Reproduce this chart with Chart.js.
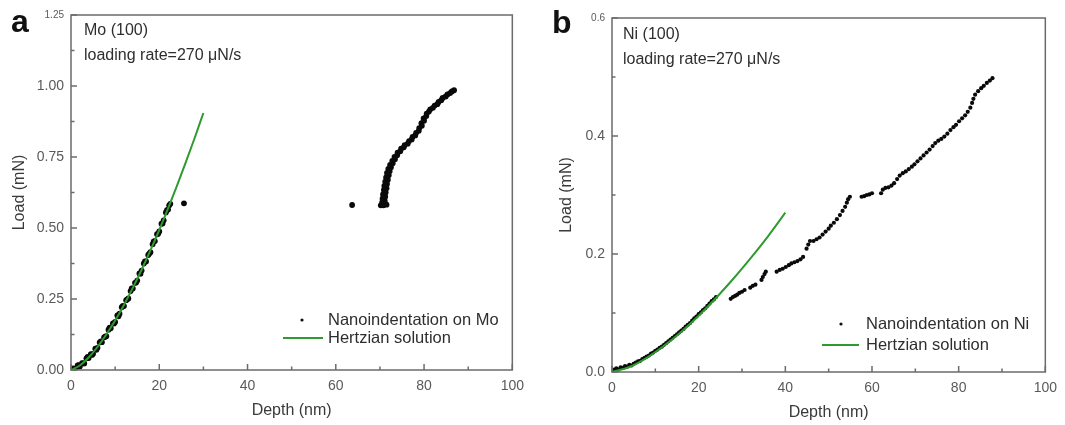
<!DOCTYPE html>
<html>
<head>
<meta charset="utf-8">
<script src="https://cdn.jsdelivr.net/npm/chart.js@4.4.1/dist/chart.umd.min.js"></script>
<style>
  html, body { margin: 0; padding: 0; background: #fff; }
  #wrap { position: relative; width: 1065px; height: 425px; overflow: hidden; }
  canvas { position: absolute; top: 0; }
</style>
</head>
<body>
<div id="wrap">
  <canvas id="chartMo" width="532" height="425" style="left:0"></canvas>
  <canvas id="chartNi" width="533" height="425" style="left:532px"></canvas>
</div>
<script>
// ---------- Mo (100): measured load–depth points [depth nm, load mN] ----------
const moLowerBand = [
  [0.5,0.006],[1,0.003],[1.5,0.016],[2,0.012],[2.5,0.024],[3,0.023],[3.5,0.041],[4,0.042],
  [4.5,0.056],[5,0.057],[5.5,0.075],[6,0.078],[6.5,0.097],[7,0.098],[7.5,0.115],[8,0.119],
  [8.5,0.142],[9,0.147],[9.5,0.164],[10,0.169],[10.5,0.192],[11,0.198],[11.5,0.221],[12,0.225],
  [12.5,0.246],[13,0.252],[13.5,0.278],[14,0.287],[14.5,0.307],[15,0.315],[15.5,0.340],[16,0.350],
  [16.5,0.375],[17,0.382],[17.5,0.405],[18,0.415],[18.5,0.443],[19,0.454],[19.5,0.478],[20,0.488],
  [20.5,0.515],[21,0.527],[21.5,0.555],[22,0.565],[22.5,0.585],
  [0.75,0.001],[1.75,0.017],[2.75,0.023],[3.75,0.046],[4.75,0.053],[5.75,0.071],[6.75,0.101],
  [7.75,0.117],[8.75,0.149],[9.75,0.164],[10.75,0.189],[11.75,0.226],[12.75,0.249],[13.75,0.287],
  [14.75,0.308],[15.75,0.339],[16.75,0.382],[17.75,0.410],[18.75,0.453],[19.75,0.480],
  [20.75,0.516],[21.75,0.563],[22.25,0.580]
];
const moStray = [[25.6,0.587],[63.7,0.581]];
const moUpperBand = [
  [70.2,0.580],[70.8,0.580],[71.5,0.582],[70.5,0.590],[71.1,0.595],[70.6,0.603],[71.2,0.610],
  [70.7,0.618],[71.3,0.625],[70.9,0.634],[71.5,0.640],[71.0,0.648],[71.6,0.655],[71.2,0.663],
  [71.8,0.670],[71.4,0.678],[72.0,0.686],[71.6,0.694],[72.2,0.700],[71.9,0.708],[72.5,0.714],
  [72.3,0.722],[72.9,0.728],[72.8,0.736],[73.4,0.742],[73.3,0.750],[73.9,0.756],[74.0,0.765],
  [74.6,0.770],[74.8,0.779],[75.4,0.784],[75.6,0.792],[76.3,0.797],[76.6,0.806],[77.2,0.812],
  [77.4,0.821],[78.0,0.826],[78.2,0.835],[78.8,0.842],[78.9,0.852],[79.5,0.860],[79.4,0.869],
  [80.0,0.878],[79.9,0.886],[80.5,0.894],[80.6,0.903],[81.1,0.910],[81.4,0.918],[82.0,0.923],
  [82.4,0.931],[83.0,0.936],[83.3,0.944],[83.9,0.950],[84.2,0.958],[84.9,0.963],[85.3,0.970],
  [85.9,0.975],[86.3,0.981],[86.8,0.985]
];
// Hertzian elastic solution for Mo
const moHertzDepth = [0, 2, 4, 6, 8, 10, 12, 14, 16, 18, 20, 22, 24, 26, 28, 30];
const moHertzLoad  = [0, 0.016, 0.044, 0.081, 0.125, 0.174, 0.229, 0.289, 0.353, 0.421, 0.493, 0.569, 0.648, 0.731, 0.816, 0.905];
const moLoadTicks  = [0, 0.25, 0.5, 0.75, 1.0, 1.25];

// ---------- Ni (100): measured load–depth points [depth nm, load mN] ----------
const niElastic = [
  [0.5,0.004],[1,0.006],[1.5,0.004],[2,0.008],[2.5,0.007],[3,0.010],[3.5,0.009],[4,0.012],
  [4.5,0.011],[5,0.014],[5.5,0.016],[6,0.018],[6.5,0.019],[7,0.022],[7.5,0.024],[8,0.026],
  [8.5,0.028],[9,0.031],[9.5,0.033],[10,0.036],[10.5,0.038],[11,0.041],[11.5,0.043],[12,0.046],
  [12.5,0.049],[13,0.052],[13.5,0.055],[14,0.058],[14.5,0.061],[15,0.064],[15.5,0.067],[16,0.070],
  [16.5,0.073],[17,0.077],[17.5,0.080],[18,0.083],[18.5,0.087],[19,0.091],[19.5,0.094],[20,0.098],
  [20.5,0.101],[21,0.105],[21.5,0.108],[22,0.112],[22.5,0.116],[23,0.120],[23.5,0.123],[24,0.127]
];
const niPlastic = [
  [27.4,0.124],[27.9,0.127],[28.4,0.129],[28.9,0.131],[29.4,0.134],[30.0,0.136],[30.6,0.139],
  [31.9,0.143],[32.5,0.146],[33.1,0.148],
  [34.5,0.156],[34.8,0.161],[35.2,0.166],[35.5,0.170],
  [38.0,0.170],[38.7,0.173],[39.4,0.175],[40.1,0.178],[40.8,0.181],[41.4,0.184],[42.1,0.186],
  [42.8,0.188],[43.5,0.191],[44.1,0.195],
  [44.9,0.209],[45.3,0.216],[45.7,0.222],
  [46.5,0.222],[47.2,0.225],[47.9,0.228],[48.6,0.233],[49.3,0.238],[50.0,0.243],[50.5,0.248],
  [51.2,0.253],[51.9,0.259],[52.6,0.266],[53.2,0.273],[53.8,0.280],[54.2,0.287],[54.5,0.293],[54.9,0.297],
  [57.6,0.297],[58.2,0.298],[58.8,0.300],[59.4,0.301],[60.0,0.303],
  [62.1,0.303],[62.5,0.309],[63.1,0.312],[63.8,0.313],[64.5,0.316],[65.1,0.320],[65.8,0.327],
  [66.4,0.333],[67.1,0.337],[67.8,0.340],[68.5,0.344],[69.2,0.348],[69.8,0.352],[70.5,0.357],
  [71.2,0.362],[71.9,0.367],[72.6,0.372],[73.3,0.377],[74.0,0.383],[74.6,0.388],[75.3,0.392],
  [76.0,0.395],[76.7,0.399],[77.4,0.404],[78.1,0.410],[78.8,0.415],[79.4,0.419],[80.1,0.425],
  [80.8,0.430],[81.5,0.435],[82.1,0.441],[82.7,0.448],[83.1,0.456],[83.4,0.463],[83.8,0.470],
  [84.5,0.476],[85.2,0.481],[85.8,0.485],[86.5,0.490],[87.2,0.494],[87.8,0.498]
];
// Hertzian elastic solution for Ni
const niHertzDepth = [0, 4, 8, 12, 16, 20, 24, 28, 32, 36, 40];
const niHertzLoad  = [0, 0.0085, 0.0241, 0.0444, 0.0683, 0.0954, 0.1255, 0.158, 0.193, 0.230, 0.270];
const niLoadTicks  = [0, 0.2, 0.4, 0.6];

const depthTicks = [0, 20, 40, 60, 80, 100];

const FONT = '"Liberation Sans", Arial, sans-serif';
const GREEN = '#2f9a2f';

const toXY = pts => pts.map(([x, y]) => ({ x, y }));
const zipXY = (xs, ys) => xs.map((x, i) => ({ x, y: ys[i] }));

// Frame, inward tick marks, text notes, legend and panel letter
const panelDecor = {
  id: 'panelDecor',
  afterDraw(chart, args, o) {
    const { ctx, chartArea: a, scales: { x, y } } = chart;
    ctx.save();
    ctx.strokeStyle = '#6b6b6b';
    ctx.lineWidth = 1.5;
    ctx.strokeRect(a.left, a.top, a.right - a.left, a.bottom - a.top);

    const marks = (scale, horizontal) => {
      const vals = scale.ticks.map(t => t.value);
      vals.forEach((v, i) => {
        const p = scale.getPixelForValue(v);
        ctx.beginPath();
        if (horizontal) { ctx.moveTo(p, a.bottom); ctx.lineTo(p, a.bottom - 6); }
        else { ctx.moveTo(a.left, p); ctx.lineTo(a.left + 6, p); }
        ctx.stroke();
        if (i < vals.length - 1) {
          const m = scale.getPixelForValue((v + vals[i + 1]) / 2);
          ctx.beginPath();
          if (horizontal) { ctx.moveTo(m, a.bottom); ctx.lineTo(m, a.bottom - 3.5); }
          else { ctx.moveTo(a.left, m); ctx.lineTo(a.left + 3.5, m); }
          ctx.stroke();
        }
      });
    };
    marks(x, true);
    marks(y, false);

    // material / rate note
    ctx.fillStyle = '#2e2e2e';
    ctx.font = '16px ' + FONT;
    ctx.textBaseline = 'middle';
    ctx.textAlign = 'left';
    o.notes.forEach((s, i) => ctx.fillText(s, a.left + o.noteX, a.top + o.noteY + i * 25));

    // legend
    const lg = o.legend;
    ctx.font = '16.5px ' + FONT;
    ctx.fillStyle = '#111';
    ctx.beginPath();
    ctx.arc(a.left + lg.markX, a.bottom - lg.row1, 1.6, 0, Math.PI * 2);
    ctx.fill();
    ctx.strokeStyle = GREEN;
    ctx.lineWidth = 2.2;
    ctx.beginPath();
    ctx.moveTo(a.left + lg.lineX0, a.bottom - lg.row2);
    ctx.lineTo(a.left + lg.lineX1, a.bottom - lg.row2);
    ctx.stroke();
    ctx.fillStyle = '#2e2e2e';
    ctx.fillText(lg.labels[0], a.left + lg.textX, a.bottom - lg.row1);
    ctx.fillText(lg.labels[1], a.left + lg.textX, a.bottom - lg.row2);

    // panel letter
    ctx.fillStyle = '#111';
    ctx.font = 'bold 32px ' + FONT;
    ctx.textBaseline = 'alphabetic';
    ctx.fillText(o.letter, o.letterX, o.letterY);
    ctx.restore();
  }
};

function makePanel(id, cfg) {
  return new Chart(document.getElementById(id), {
    type: 'scatter',
    data: {
      datasets: [
        {
          label: 'Hertzian solution',
          data: cfg.fit,
          showLine: true,
          borderColor: GREEN,
          borderWidth: 2,
          pointRadius: 0,
          cubicInterpolationMode: 'monotone'
        },
        {
          label: cfg.dataLabel,
          data: cfg.points,
          showLine: false,
          pointRadius: cfg.dotRadius,
          pointBorderWidth: 0,
          pointBackgroundColor: '#0a0a0a'
        }
      ]
    },
    options: {
      responsive: false,
      animation: false,
      devicePixelRatio: 1,
      layout: { padding: { top: cfg.padTop, right: cfg.padRight, left: 0, bottom: 0 } },
      plugins: {
        legend: { display: false },
        tooltip: { enabled: false },
        panelDecor: cfg.decor
      },
      scales: {
        x: {
          type: 'linear',
          min: 0, max: 100,
          afterBuildTicks: s => { s.ticks = depthTicks.map(v => ({ value: v })); },
          afterFit: s => { s.height = cfg.xAxisHeight; },
          grid: { display: false, drawTicks: false },
          border: { display: false },
          ticks: {
            padding: 8,
            color: '#5a5a5a',
            font: { family: FONT, size: 14 },
            callback: v => String(v)
          },
          title: {
            display: true, text: 'Depth (nm)', color: '#3a3a3a',
            font: { family: FONT, size: 16 },
            padding: { top: 0, bottom: cfg.xTitlePad }
          }
        },
        y: {
          type: 'linear',
          min: 0, max: cfg.yMax,
          afterBuildTicks: s => { s.ticks = cfg.yTicks.map(v => ({ value: v })); },
          afterFit: s => { s.width = cfg.yAxisWidth; },
          grid: { display: false, drawTicks: false },
          border: { display: false },
          ticks: {
            padding: 7,
            color: '#5a5a5a',
            font: ctx => ({ family: FONT, size: (ctx.tick && ctx.tick.value === cfg.yMax) ? 10 : 14 }),
            callback: v => v.toFixed(cfg.digits)
          },
          title: {
            display: true, text: 'Load (mN)', color: '#3a3a3a',
            font: { family: FONT, size: 16 },
            padding: { top: cfg.yTitlePad, bottom: 0 }
          }
        }
      }
    },
    plugins: [panelDecor]
  });
}

makePanel('chartMo', {
  points: toXY(moLowerBand.concat(moStray, moUpperBand)),
  fit: zipXY(moHertzDepth, moHertzLoad),
  dataLabel: 'Nanoindentation on Mo',
  dotRadius: 2.9,
  yMax: 1.25, yTicks: moLoadTicks, digits: 2,
  padTop: 15, padRight: 19, yAxisWidth: 71, xAxisHeight: 55,
  xTitlePad: 5, yTitlePad: 10,
  decor: {
    letter: 'a', letterX: 11, letterY: 32,
    notes: ['Mo (100)', 'loading rate=270 \u03bcN/s'], noteX: 13, noteY: 16,
    legend: {
      labels: ['Nanoindentation on Mo', 'Hertzian solution'],
      markX: 231, lineX0: 212, lineX1: 252, textX: 257, row1: 50, row2: 32
    }
  }
});

makePanel('chartNi', {
  points: toXY(niElastic.concat(niPlastic)),
  fit: zipXY(niHertzDepth, niHertzLoad),
  dataLabel: 'Nanoindentation on Ni',
  dotRadius: 2.1,
  yMax: 0.6, yTicks: niLoadTicks, digits: 1,
  padTop: 18, padRight: 13, yAxisWidth: 80, xAxisHeight: 53,
  xTitlePad: 3, yTitlePad: 25,
  decor: {
    letter: 'b', letterX: 20, letterY: 33,
    notes: ['Ni (100)', 'loading rate=270 \u03bcN/s'], noteX: 11, noteY: 17,
    legend: {
      labels: ['Nanoindentation on Ni', 'Hertzian solution'],
      markX: 229, lineX0: 210, lineX1: 247, textX: 254, row1: 48, row2: 27
    }
  }
});
</script>
</body>
</html>
